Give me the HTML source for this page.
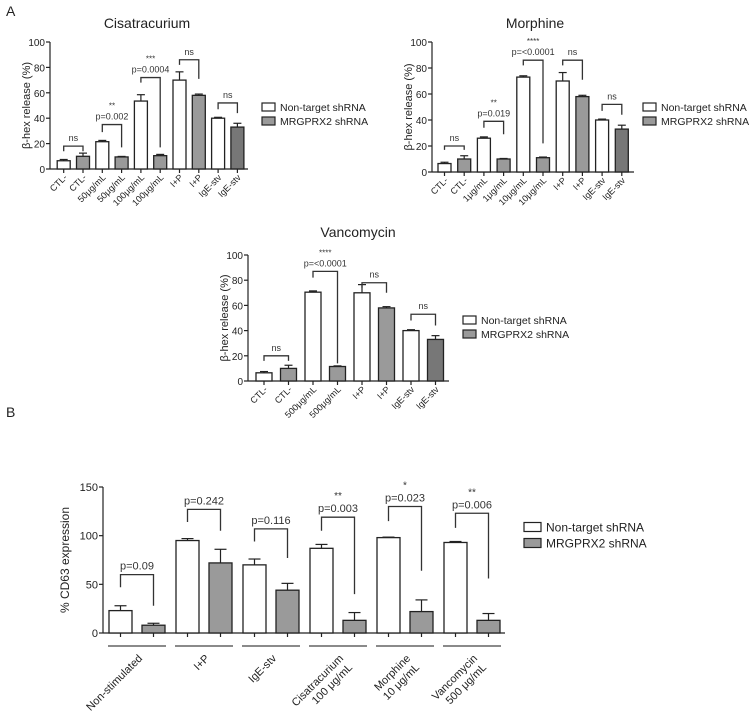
<!DOCTYPE html>
<html><head><meta charset="utf-8"><style>
body{margin:0;background:#fff}
svg{display:block;font-family:"Liberation Sans",Arial,sans-serif}
</style></head><body>
<svg id="fig" width="750" height="714" viewBox="0 0 750 714" xmlns="http://www.w3.org/2000/svg">
<text x="6" y="16" font-size="14" fill="#222">A</text>
<text x="6" y="417" font-size="14" fill="#222">B</text>
</svg>
<script>
// ---- Panel A data ----
const cisCategories = ["CTL-","50μg/mL","100μg/mL","I+P","IgE-stv"];
const cisNonTarget = [6.5,21.5,53.5,70,40];
const cisNonTargetErr = [1,1,5,6.5,0.7];
const cisMrg = [10,9.5,10.5,58,33];
const cisMrgErr = [2.5,0.4,1,1,3];
const cisBrackets = [[18,14,14],[35,29,17],[72,68,17],[86,82,71],[52,47,44]];
const cisBracketLabels = [["ns"],["**","p=0.002"],["***","p=0.0004"],["ns"],["ns"]];

const morCategories = ["CTL-","1μg/mL","10μg/mL","I+P","IgE-stv"];
const morNonTarget = [6.5,26,73,70,40];
const morNonTargetErr = [1,1,1,6.5,0.7];
const morMrg = [10,10,11,58,33];
const morMrgErr = [2.5,0.4,0.5,1,3];
const morBrackets = [[20,17,17],[39,34,29],[86,82,22],[86,82,71],[52,47,44]];
const morBracketLabels = [["ns"],["**","p=0.019"],["****","p=<0.0001"],["ns"],["ns"]];

const vanCategories = ["CTL-","500μg/mL","I+P","IgE-stv"];
const vanNonTarget = [6.5,70.5,70,40];
const vanNonTargetErr = [1,1,6.5,0.7];
const vanMrg = [10,11.5,58,33];
const vanMrgErr = [2.5,0.5,1,3];
const vanBrackets = [[20,16,16],[87,82,14],[78,74,70],[53,48,44]];
const vanBracketLabels = [["ns"],["****","p=<0.0001"],["ns"],["ns"]];

const aTicks = [0,20,40,60,80,100];

// ---- Panel B data ----
const bCategories = [["Non-stimulated"],["I+P"],["IgE-stv"],["Cisatracurium","100 μg/mL"],["Morphine","10 μg/mL"],["Vancomycin","500 μg/mL"]];
const bNonTarget = [23,95,70,87,98,93];
const bNonTargetErr = [5,2,6,4,0.5,1];
const bMrg = [8,72,44,13,22,13];
const bMrgErr = [2,14,7,8,12,7];
const bBrackets = [[60,47,28],[127,114,105],[107,94,77],[119,105,40],[130,115,64],[123,108,56]];
const bBracketLabels = [["p=0.09"],["p=0.242"],["p=0.116"],["**","p=0.003"],["*","p=0.023"],["**","p=0.006"]];
const bTicks = [0,50,100,150];

const svg = document.getElementById('fig');
const NS = 'http://www.w3.org/2000/svg';
function mk(tag, attrs, parent){
  const e = document.createElementNS(NS, tag);
  for (const k in attrs) e.setAttribute(k, attrs[k]);
  (parent||svg).appendChild(e);
  return e;
}

function panel(cfg){
  const g = mk('g', {});
  
  
  const yS = v => cfg.y0 - (v / cfg.max) * (cfg.y0 - cfg.yTop);
  const n = cfg.nonT.length;
  const bx = (gi, s) => cfg.grouped ? cfg.first + gi*cfg.period + (s ? cfg.offset : -cfg.offset)
                                     : cfg.first + (gi*2 + s)*cfg.period;
  if (cfg.title){
    const t = mk('text', {x:cfg.titleX, y:cfg.titleY, 'font-size':14, 'text-anchor':'middle', fill:'#222'}, g);
    t.textContent = cfg.title;
    
    
  }
  const ax = mk('line', {x1:cfg.x0, x2:cfg.x0, y1:yS(cfg.max), y2:cfg.y0, stroke:'#222', 'stroke-width':1.2}, g);
  
  
  cfg.ticks.forEach(tv => {
    mk('line', {x1:cfg.x0-4, x2:cfg.x0, y1:yS(tv), y2:yS(tv), stroke:'#222', 'stroke-width':1.2}, g);
    const t = mk('text', {x:cfg.x0-5, y:yS(tv)+4, 'font-size':cfg.tickFs, 'text-anchor':'end', fill:'#222'}, g);
    t.textContent = tv;
    
    
  });
  const yt = mk('text', {x:0, y:0, 'font-size':cfg.yTitleFs, 'text-anchor':'middle', fill:'#222',
    transform:`translate(${cfg.yTitleX},${(yS(cfg.max)+cfg.y0)/2}) rotate(-90)`}, g);
  yt.textContent = cfg.yTitle;
  
  
  const xa = mk('line', {x1:cfg.x0, x2:cfg.xEnd, y1:cfg.y0, y2:cfg.y0, stroke:'#222', 'stroke-width':1.2}, g);
  
  
  for (let gi=0; gi<n; gi++){
    [[cfg.nonT, cfg.nonTErr, '#fff'], [cfg.mrg, cfg.mrgErr, (gi===n-1 && cfg.darkLast) ? '#777' : '#9a9a9a']].forEach((sd, s) => {
      const cx = bx(gi, s), v = sd[0][gi], e = sd[1][gi];
      mk('line', {x1:cx, x2:cx, y1:yS(v+e), y2:yS(v), stroke:'#222', 'stroke-width':1.2}, g);
      mk('line', {x1:cx-cfg.capW, x2:cx+cfg.capW, y1:yS(v+e), y2:yS(v+e), stroke:'#222', 'stroke-width':1.2}, g);
      const r = mk('rect', {x:cx-cfg.barW/2, y:yS(v), width:cfg.barW, height:cfg.y0-yS(v), fill:sd[2], stroke:'#222', 'stroke-width':1.3}, g);
      
      
      mk('line', {x1:cx, x2:cx, y1:cfg.y0, y2:cfg.y0+4, stroke:'#222', 'stroke-width':1.2}, g);
      if (!cfg.grouped){
        const t = mk('text', {x:0, y:0, 'font-size':9, 'text-anchor':'end', fill:'#222',
          transform:`translate(${cx+4},${cfg.y0+9}) rotate(-45)`}, g);
        t.textContent = cfg.cats[gi*2+s];
        
        
      }
    });
    const br = cfg.brackets[gi], l = bx(gi,0), rr = bx(gi,1);
    const p = mk('path', {d:`M${l},${yS(br[1])}V${yS(br[0])}H${rr}V${yS(br[2])}`, fill:'none', stroke:'#333', 'stroke-width':1.3}, g);
    
    
    const labs = cfg.blabels[gi];
    labs.forEach((lt, k) => {
      const isStar = lt.indexOf('*')===0;
      const yy = yS(br[0]) - 5 - (labs.length-1-k)*cfg.lineGap + (isStar ? 2 : 0);
      const t = mk('text', {x:(l+rr)/2, y:yy, 'font-size':isStar ? cfg.labFs-1 : cfg.labFs, 'text-anchor':'middle', fill:'#333'}, g);
      t.textContent = lt;
      
      
    });
    if (cfg.grouped){
      const gc = (l+rr)/2;
      mk('line', {x1:gc-29, x2:gc+29, y1:cfg.lineY, y2:cfg.lineY, stroke:'#444', 'stroke-width':1.2}, g);
      const lines = cfg.cats[gi];
      lines.forEach((lt, k) => {
        const t = mk('text', {x:0, y:0, 'font-size':11, 'text-anchor':'end', fill:'#222',
          transform:`translate(${gc+6+k*9},${cfg.lineY+13+k*9}) rotate(-45)`}, g);
        t.textContent = lt;
        
        
      });
    }
  }
  [['Non-target shRNA','#fff'],['MRGPRX2 shRNA','#9a9a9a']].forEach((le, k) => {
    const y = cfg.legY + k*cfg.legGap;
    const lg = mk('g', {}, g);
    
    
    mk('rect', {x:cfg.legX, y:y-cfg.legH/2, width:cfg.legW, height:cfg.legH, fill:le[1], stroke:'#222', 'stroke-width':1.2}, lg);
    const t = mk('text', {x:cfg.legX+cfg.legW+5, y:y+cfg.legFs*0.36, 'font-size':cfg.legFs, fill:'#222'}, lg);
    t.textContent = le[0];
  });
}

const aCommon = {max:100, ticks:aTicks, tickFs:10, yTitle:'β-hex release (%)', yTitleFs:11, labFs:9, lineGap:13,
  capW:4, legW:13, legH:8, legFs:10.5, legGap:14, darkLast:true, grouped:false};

panel(Object.assign({}, aCommon, {name:'cisatracurium-chart', title:'Cisatracurium', titleX:147, titleY:28,
  x0:50, y0:169, yTop:42, xEnd:248, first:63.7, period:19.3, barW:13, yTitleX:30,
  nonT:cisNonTarget, nonTErr:cisNonTargetErr, mrg:cisMrg, mrgErr:cisMrgErr, cats:[].concat(...cisCategories.map(c=>[c,c])),
  brackets:cisBrackets, blabels:cisBracketLabels, legX:262, legY:107, }));
panel(Object.assign({}, aCommon, {name:'morphine-chart', title:'Morphine', titleX:535, titleY:28,
  x0:432, y0:172, yTop:42, xEnd:634, first:444.5, period:19.7, barW:13, yTitleX:412,
  nonT:morNonTarget, nonTErr:morNonTargetErr, mrg:morMrg, mrgErr:morMrgErr, cats:[].concat(...morCategories.map(c=>[c,c])),
  brackets:morBrackets, blabels:morBracketLabels, legX:643, legY:107}));
panel(Object.assign({}, aCommon, {name:'vancomycin-chart', title:'Vancomycin', titleX:358, titleY:237,
  x0:248, y0:381, yTop:255, xEnd:449, first:264, period:24.5, barW:16, yTitleX:228,
  nonT:vanNonTarget, nonTErr:vanNonTargetErr, mrg:vanMrg, mrgErr:vanMrgErr, cats:[].concat(...vanCategories.map(c=>[c,c])),
  brackets:vanBrackets, blabels:vanBracketLabels, legX:463, legY:320}));
panel({name:'cd63-chart', max:150, ticks:bTicks, tickFs:11, yTitle:'% CD63 expression', yTitleFs:12, labFs:11, lineGap:15,
  capW:6, legW:17, legH:9, legFs:12, legGap:16, darkLast:false, grouped:true,
  x0:103, y0:633, yTop:487, xEnd:505, first:137, period:67, offset:16.5, barW:23, yTitleX:69, lineY:646,
  nonT:bNonTarget, nonTErr:bNonTargetErr, mrg:bMrg, mrgErr:bMrgErr, cats:bCategories,
  brackets:bBrackets, blabels:bBracketLabels, legX:524, legY:527});
</script>
</body></html>
